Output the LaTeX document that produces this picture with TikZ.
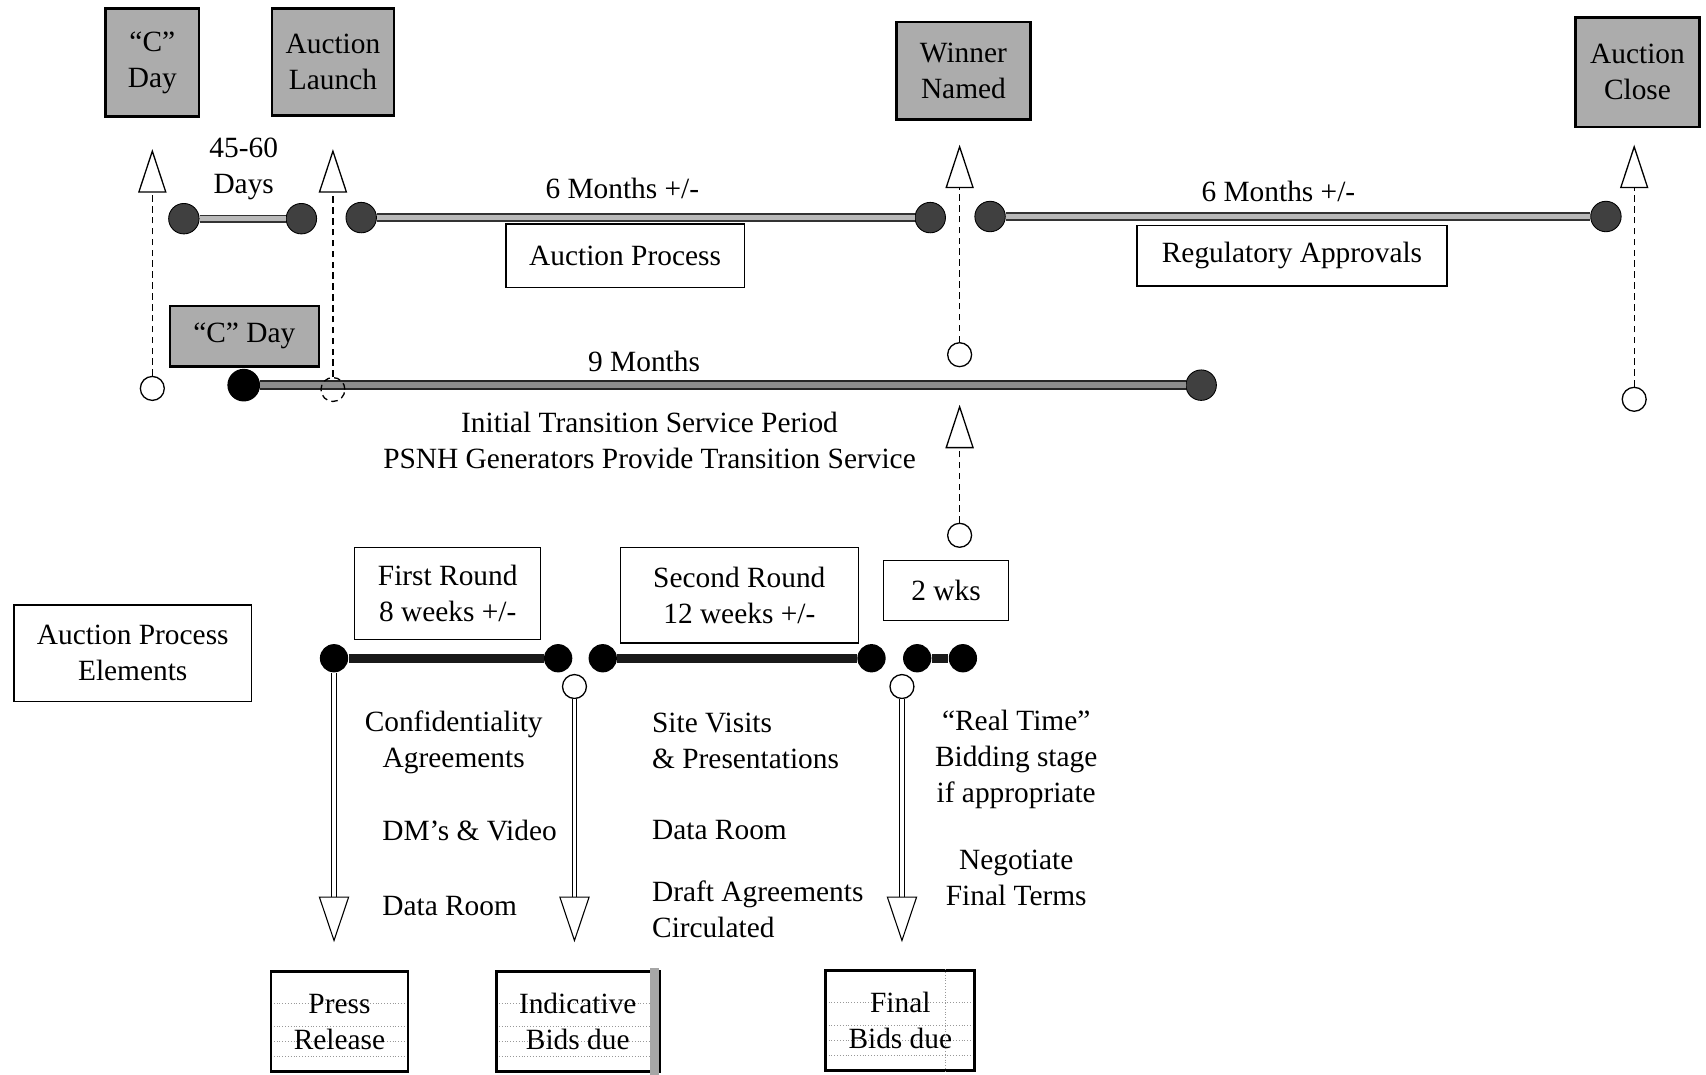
\documentclass[tikz,border=0pt]{standalone}
\usepackage{fontspec}
\setmainfont{Liberation Serif}
\usetikzlibrary{arrows.meta}

\tikzset{
  hatchbox/.style={draw, line width=1.1pt, fill=gray!65, align=center, inner sep=1pt},
  plainbox/.style={draw, line width=0.6pt, align=center, inner sep=1pt},
  duebox/.style={draw, line width=1.3pt, align=center, inner sep=1pt,
    path picture={
      \foreach \dy in {-16pt,-9pt,-2pt,8.5pt}
        \draw[densely dotted, gray!80, line width=0.3pt] ([yshift=\dy]path picture bounding box.west) -- ([yshift=\dy]path picture bounding box.east);
    }},
  topdot/.style={circle, fill=black!75, draw=black, minimum size=14pt, inner sep=0pt},
  blackdot/.style={circle, fill=black, minimum size=13pt, inner sep=0pt},
  ring/.style={circle, draw, line width=0.6pt, minimum size=11pt, inner sep=0pt},
  topbar/.style={draw=black!80, line width=0.7pt, double=gray!55, double distance=2.4pt},
  ninebar/.style={draw=black!85, line width=0.9pt, double=black!45, double distance=2.6pt},
  botbar/.style={line width=4pt, black!90},
  uparrow/.style={densely dashed, line width=0.6pt, -{Triangle[open, length=20pt, width=13pt]}},
  downarrow/.style={line width=0.5pt, double, double distance=1.6pt, -{Triangle[open, length=21pt, width=14pt]}},
  txt/.style={align=center, inner sep=1pt}
}

\begin{document}
\begin{tikzpicture}[x=0.5pt,y=0.5pt,yscale=-1,xscale=1,
  font=\fontsize{13.5}{16.5}\selectfont]
\useasboundingbox (0,0) rectangle (1568,988);

%Shape: Hatched boxes, top milestones
\node (cday) at (140,57.5) [hatchbox, minimum width=43pt, minimum height=49.5pt] {“C”\\Day};
\node (launch) at (306,57) [hatchbox, minimum width=56pt, minimum height=49pt] {Auction\\Launch};
\node (winner) at (885.5,65) [hatchbox, minimum width=61.5pt, minimum height=45pt] {Winner\\Named};
\node (close) at (1505,66.5) [hatchbox, minimum width=57pt, minimum height=50.5pt] {Auction\\Close};
\node (cdaysmall) at (224.5,309) [hatchbox, minimum width=68.5pt, minimum height=28pt] {“C” Day};

%Shape: Dots, top time line
\node (d1) at (169,201) [topdot] {};
\node (d2) at (277,201) [topdot] {};
\node (d3) at (332,200) [topdot] {};
\node (d4) at (855,200) [topdot] {};
\node (d5) at (910,199) [topdot] {};
\node (d6) at (1476,199) [topdot] {};
\node (n1) at (224,354) [blackdot, minimum size=15pt] {};
\node (n2) at (1104,354) [topdot] {};

%Straight Lines
\draw[topbar] (d1) -- (d2);
\draw[topbar] (d3) -- (d4);
\draw[topbar] (d5) -- (d6);
\draw[ninebar] (n1) -- (n2);

%Shape: Rings and arrow tips
\node (h1) at (140,357) [ring] {};
\node (h2) at (306,358) [ring, densely dashed] {};
\node (h3) at (882,326) [ring] {};
\node (h4) at (882,492) [ring] {};
\node (h5) at (1502,367) [ring] {};
\coordinate (t1) at (140,137);
\coordinate (t2) at (306,137);
\coordinate (t3) at (882,133);
\coordinate (t4) at (882,372);
\coordinate (t5) at (1502,133);

%Straight Lines, dashed up arrows
\draw[uparrow] (h1) -- (t1);
\draw[uparrow] (h2) -- (t2);
\draw[uparrow] (h3) -- (t3);
\draw[uparrow] (h4) -- (t4);
\draw[uparrow] (h5) -- (t5);

% Text Node
\node (days) at (224,155) [txt] {45-60\\Days};
% Text Node
\node (sixa) at (572,173) [txt] {6 Months +/-};
% Text Node
\node (sixb) at (1175,176) [txt] {6 Months +/-};
% Text Node
\node (nine) at (592,332) [txt] {9 Months};
% Text Node
\node (initial) at (597,405) [txt] {Initial Transition Service Period\\PSNH Generators Provide Transition Service};

%Shape: Rectangle
\node (auction) at (574.5,235) [plainbox, minimum width=109.5pt, minimum height=29pt] {Auction Process};
\node (regul) at (1187.5,235) [plainbox, minimum width=142.5pt, minimum height=28pt] {Regulatory Approvals};
\node (elements) at (122,600.5) [plainbox, minimum width=109pt, minimum height=44.5pt] {Auction Process\\Elements};
\node (first) at (411.5,545.5) [plainbox, minimum width=85.5pt, minimum height=42.5pt] {First Round\\8 weeks +/-};
\node (second) at (679.5,547) [plainbox, minimum width=109.5pt, minimum height=44pt] {Second Round\\12 weeks +/-};
\node (twowks) at (869.5,542.5) [plainbox, minimum width=57.5pt, minimum height=27.5pt] {2 wks};

%Shape: Dots, auction process time line
\node (b1) at (307,605) [blackdot] {};
\node (b2) at (513,605) [blackdot] {};
\node (b3) at (554,605) [blackdot] {};
\node (b4) at (801,605) [blackdot] {};
\node (b5) at (843,605) [blackdot] {};
\node (b6) at (885,605) [blackdot] {};
\draw[botbar] (b1) -- (b2);
\draw[botbar] (b3) -- (b4);
\draw[botbar] (b5) -- (b6);

\node (h6) at (528,631) [ring] {};
\node (h7) at (829,631) [ring] {};
\coordinate (t6) at (307,866);
\coordinate (t7) at (528,866);
\coordinate (t8) at (829,866);

%Straight Lines, down arrows
\draw[downarrow] (b1) -- (t6);
\draw[downarrow] (h6) -- (t7);
\draw[downarrow] (h7) -- (t8);

% Text Node
\node (conf) at (417,682) [txt] {Confidentiality\\Agreements};
% Text Node
\node (dms) at (349,763) [txt, anchor=west] {DM’s \& Video};
% Text Node
\node (dataa) at (349,833) [txt, anchor=west] {Data Room};
% Text Node
\node (site) at (597,681) [txt, anchor=west, align=left] {Site Visits\\\& Presentations};
% Text Node
\node (datab) at (597,763) [txt, anchor=west] {Data Room};
% Text Node
\node (draft) at (597,836) [txt, anchor=west, align=left] {Draft Agreements\\Circulated};
% Text Node
\node (real) at (934,698) [txt] {“Real Time”\\Bidding stage\\if appropriate};
% Text Node
\node (nego) at (934,807) [txt] {Negotiate\\Final Terms};

%Shape: Rectangle, due boxes
\node (press) at (312,939) [duebox, minimum width=63pt, minimum height=46pt] {Press\\Release};
\node (indic) at (531,939) [duebox, minimum width=75pt, minimum height=46pt] {Indicative\\Bids due};
\node (final) at (827.5,938) [duebox, minimum width=68.5pt, minimum height=46pt] {Final\\Bids due};
\fill[gray!70] ([xshift=-5pt,yshift=-1pt]indic.north east) rectangle ([xshift=-0.7pt,yshift=1pt]indic.south east);
\draw[densely dotted, gray!80, line width=0.3pt] ([xshift=-14pt]final.north east) -- ([xshift=-14pt]final.south east);
\end{tikzpicture}
\end{document}
